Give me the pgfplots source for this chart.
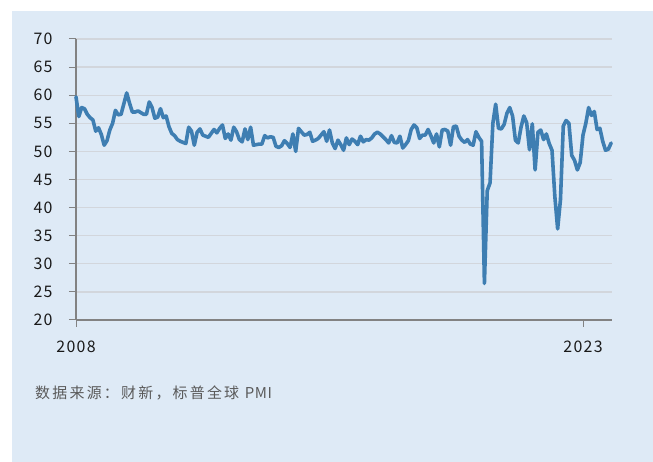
\documentclass[border=0pt]{standalone}
\usepackage{pgfplots}
\usepackage{pgfplotstable}
\pgfplotsset{compat=1.18}
\usepackage{fontspec}
\setmainfont{Noto Sans CJK SC}[LetterSpace=15]
\newfontfamily\tickfont{Noto Sans CJK SC}[LetterSpace=8]
\newfontfamily\latinfont{Noto Sans CJK SC}[LetterSpace=4]

\definecolor{panel}{RGB}{222,234,246}
\definecolor{pmiblue}{RGB}{62,126,178}
\definecolor{gridgray}{RGB}{210,214,220}
\definecolor{axisgray}{RGB}{130,130,130}
\definecolor{labeltext}{RGB}{25,25,25}
\definecolor{sourcetext}{RGB}{90,90,90}

% Caixin China services PMI, monthly, Jan 2008 -- Nov 2023
\pgfplotstableread{
pmi
59.7
56.2
57.8
57.6
56.6
56.0
55.6
53.6
54.2
53.0
51.1
51.9
53.8
55.0
57.3
56.5
56.6
58.5
60.4
58.6
57.0
57.0
57.2
56.9
56.6
56.6
58.8
57.8
55.9
56.1
57.6
56.0
56.3
54.4
53.2
52.8
52.1
51.8
51.6
51.4
54.3
53.6
51.1
53.4
54.0
52.9
52.7
52.5
53.2
53.9
53.3
54.1
54.7
52.3
53.1
52.0
54.3
53.5
52.1
51.7
54.0
52.1
54.3
51.1
51.2
51.3
51.3
52.8
52.4
52.6
52.5
50.9
50.7
51.0
51.9
51.4
50.7
53.1
50.0
54.1
53.5
52.9
53.0
53.4
51.8
52.0
52.3
52.9
53.5
51.8
53.8
51.5
50.5
52.0
51.2
50.2
52.4
51.2
52.2
51.8
51.2
52.7
51.7
52.1
52.0
52.4
53.1
53.4
53.1
52.6
52.1
51.5
52.8
51.6
51.5
52.7
50.6
51.2
51.9
53.9
54.7
54.2
52.3
52.9
52.9
53.9
52.8
51.5
53.1
50.8
53.8
53.9
53.6
51.1
54.4
54.5
52.7
52.0
51.6
52.1
51.3
51.1
53.5
52.5
51.8
26.5
43.0
44.4
55.0
58.4
54.1
54.0
54.8
56.8
57.8
56.3
52.0
51.5
54.3
56.3
55.1
50.3
54.9
46.7
53.4
53.8
52.1
53.1
51.4
50.2
42.0
36.2
41.4
54.5
55.5
55.0
49.3
48.4
46.7
48.0
52.9
55.0
57.8
56.4
57.1
53.9
54.1
51.8
50.2
50.4
51.5
}\pmidata

\begin{document}
\begin{tikzpicture}[x=1bp,y=1bp]
  % page and panel
  \fill[white] (0,0) rectangle (653,462);
  \fill[panel] (12,0) rectangle (653,451);

  \begin{axis}[
    at={(76bp,142bp)}, anchor=south west,
    scale only axis,
    width=536bp, height=281bp,
    xmin=0, xmax=190.3,
    ymin=20, ymax=70,
    ytick={20,25,...,70},
    xtick={0,180},
    xticklabels={2008,2023},
    axis x line*=bottom,
    axis y line*=left,
    axis line style={axisgray, line width=1.4bp},
    tick align=outside,
    major tick length=7bp,
    tick style={axisgray, line width=1bp},
    ymajorgrids,
    major grid style={gridgray, line width=1.3bp},
    /pgf/number format/assume math mode=true,
    ticklabel style={font=\tickfont\fontsize{16}{17}\selectfont, text=labeltext},
    yticklabel style={xshift=-13bp},
    xticklabel style={yshift=-10bp},
    clip=false,
  ]
    \addplot[pmiblue, line width=3.6bp, line join=round, line cap=round]
      table[x expr=\coordindex, y index=0] {\pmidata};
  \end{axis}

  \node[anchor=west, inner sep=0, text=sourcetext, font=\fontsize{15}{16}\selectfont]
    at (35,69) {数据来源：财新，标普全球 {\latinfont PMI}};
\end{tikzpicture}
\end{document}
